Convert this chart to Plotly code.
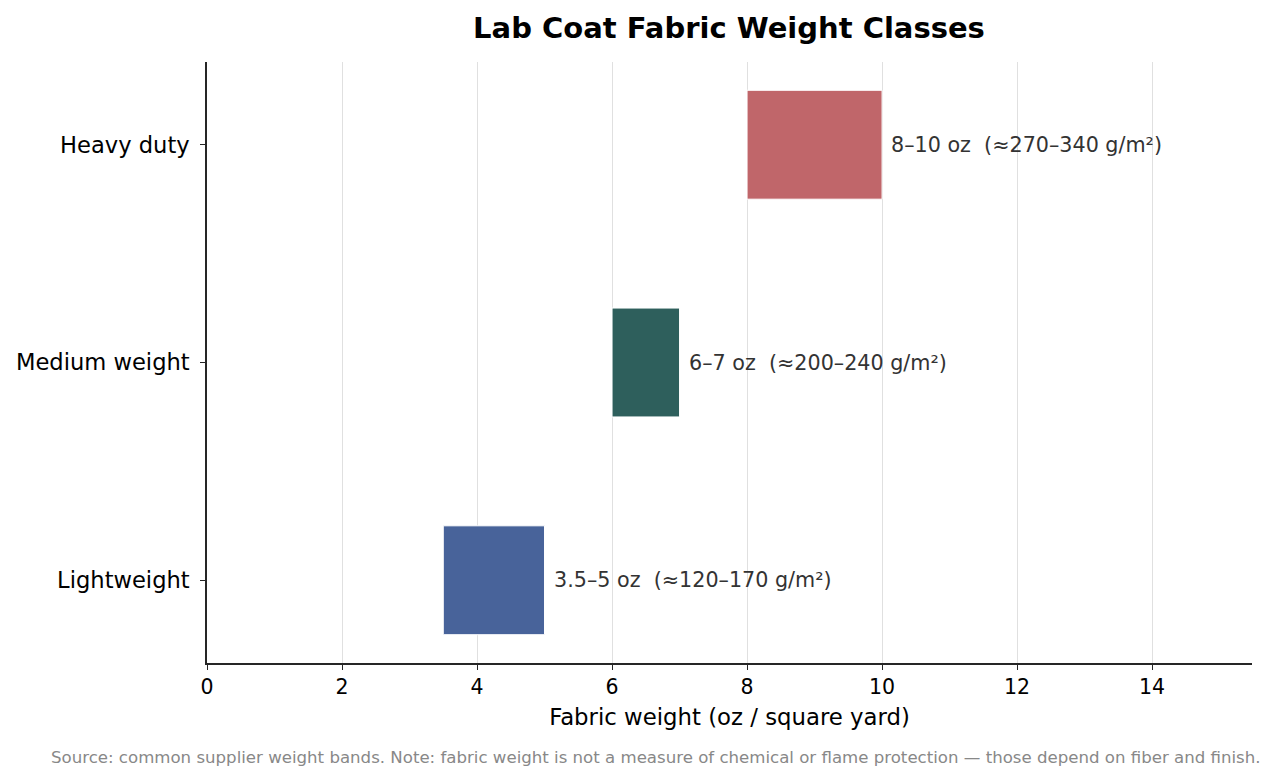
import plotly.graph_objects as go

# weight classes (oz / sq yd)
classes = ["Lightweight", "Medium weight", "Heavy duty"]
low_oz = [3.5, 6, 8]
high_oz = [5, 7, 10]
labels = ["3.5–5 oz  (≈120–170 g/m²)", "6–7 oz  (≈200–240 g/m²)", "8–10 oz  (≈270–340 g/m²)"]
colors = ["#48639A", "#2E5F5C", "#C0666A"]

widths = [h - l for l, h in zip(low_oz, high_oz)]

fig = go.Figure()
fig.add_trace(go.Bar(
    y=classes, x=widths, base=low_oz, orientation="h",
    width=0.5,
    marker=dict(color=colors, line=dict(color="white", width=1)),
    hoverinfo="skip", showlegend=False,
))

for c, h, t in zip(classes, high_oz, labels):
    fig.add_annotation(x=h, y=c, text=t, showarrow=False, xanchor="left",
                       xshift=7, font=dict(size=20.7, color="#333333"))

fig.add_annotation(
    text="Source: common supplier weight bands. Note: fabric weight is not a measure of chemical or flame protection — those depend on fiber and finish.",
    xref="paper", yref="paper", x=0.4297, y=-0.158, xanchor="center", yanchor="middle",
    showarrow=False, font=dict(size=16.6, color="#888888"))

fig.update_layout(
    width=1275, height=783,
    margin=dict(l=199, r=31, t=54, b=128, autoexpand=False),
    paper_bgcolor="white", plot_bgcolor="white",
    font=dict(family="DejaVu Sans", color="black"),
    title=dict(text="<b>Lab Coat Fabric Weight Classes</b>", x=0.5655, xanchor="center",
               y=0.9745, yanchor="middle", font=dict(size=29, color="black")),
    bargap=0.5,
)
fig.update_xaxes(
    range=[0, 15.48], tickvals=[0, 2, 4, 6, 8, 10, 12, 14],
    showgrid=True, gridcolor="#e0e0e0", gridwidth=1.4,
    showline=True, linecolor="#262626", linewidth=1.6,
    ticks="outside", ticklen=5, tickwidth=1.4, tickcolor="#262626",
    tickfont=dict(size=20.5), zeroline=False, automargin=False,
    title=dict(text="Fabric weight (oz / square yard)", font=dict(size=22.8), standoff=11),
)
fig.update_yaxes(
    categoryorder="array", categoryarray=classes, range=[-0.38, 2.38],
    showgrid=False, showline=True, linecolor="#262626", linewidth=1.6,
    ticks="outside", ticklen=5, tickwidth=1.4, tickcolor="#262626",
    tickfont=dict(size=22.6), zeroline=False, ticklabelstandoff=6, automargin=False,
)

fig.write_html("out.html")
